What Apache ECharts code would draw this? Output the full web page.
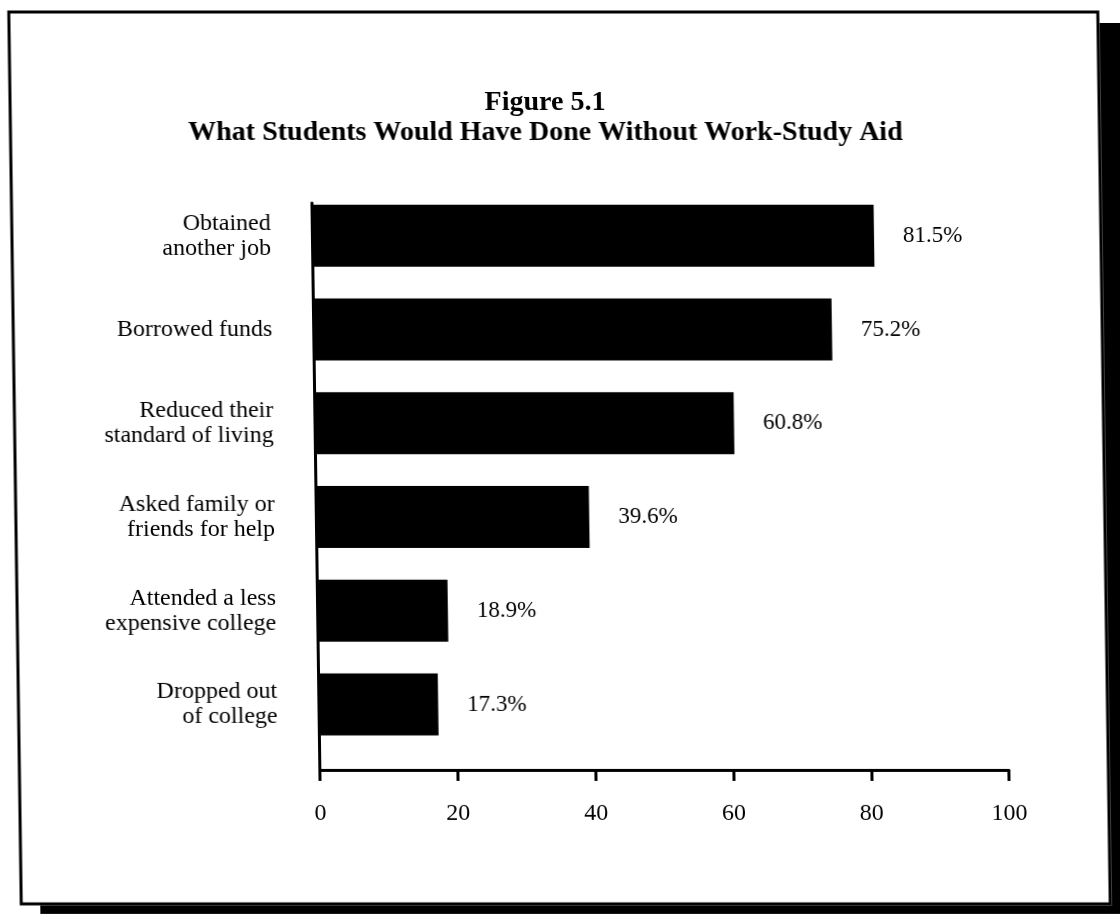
<!DOCTYPE html>
<html>
<head>
<meta charset="utf-8">
<title>Figure 5.1</title>
<script src="https://cdn.jsdelivr.net/npm/echarts@6/dist/echarts.min.js"></script>
<style>
  html, body { margin: 0; padding: 0; background: #ffffff; overflow: hidden; }
  #chart {
    width: 1140px; height: 914px;
    /* slight slant of the printed page */
    transform: skewX(0.8deg);
    transform-origin: 0 457px;
  }
</style>
</head>
<body>
<div id="chart"></div>
<script>
// Responses, top to bottom
const categories = [
  'Obtained\nanother job',
  'Borrowed funds',
  'Reduced their\nstandard of living',
  'Asked family or\nfriends for help',
  'Attended a less\nexpensive college',
  'Dropped out\nof college'
];
// Percent of students giving each response
const percentages = [81.5, 75.2, 60.8, 39.6, 18.9, 17.3];
// Two-line heading
const titleLines = ['Figure 5.1', 'What Students Would Have Done Without Work-Study Aid'];
// Scale of the percentage axis
const axisMin = 0;
const axisMax = 100;
const axisStep = 20;

const serif = "'Liberation Serif', 'Times New Roman', Times, serif";
const W = 1140, H = 914;
const plotLeft = 315.5, plotRight = W - 1004.6;

const chart = echarts.init(document.getElementById('chart'), null, { renderer: 'canvas', width: W, height: H });

chart.setOption({
  backgroundColor: '#ffffff',
  animation: false,
  title: titleLines.map((t, i) => ({
    text: t,
    left: 545,
    top: 83 + i * 30,
    textAlign: 'center',
    textStyle: { fontFamily: serif, fontWeight: 'bold', fontSize: 28, lineHeight: 30, color: '#000' }
  })),
  graphic: [
    // drop shadow of the frame
    { type: 'rect', z: -10, silent: true, shape: { x: 1105.5, y: 23, width: 60, height: 920 }, style: { fill: '#000' } },
    { type: 'rect', z: -10, silent: true, shape: { x: 34, y: 905.5, width: 1130, height: 30 }, style: { fill: '#000' } },
    // frame
    { type: 'rect', z: -10, silent: true, shape: { x: 15, y: 12, width: 1089, height: 892 },
      style: { fill: 'none', stroke: '#000', lineWidth: 3 } }
  ],
  grid: [
    // bars and category labels
    { left: plotLeft, right: plotRight, top: 189, bottom: H - 751.4, containLabel: false },
    // visible axis frame
    { left: plotLeft, right: plotRight, top: 203, bottom: H - 770, containLabel: false }
  ],
  xAxis: [
    { gridIndex: 0, type: 'value', min: axisMin, max: axisMax, interval: axisStep, show: false },
    {
      gridIndex: 1, type: 'value', min: axisMin, max: axisMax, interval: axisStep,
      axisLine: { show: true, onZero: false, lineStyle: { color: '#000', width: 3 } },
      axisTick: { show: true, length: 11, lineStyle: { color: '#000', width: 3 } },
      splitLine: { show: false },
      axisLabel: { margin: 32, fontFamily: serif, fontSize: 24, color: '#000' }
    }
  ],
  yAxis: [
    {
      gridIndex: 0, type: 'category', data: categories, inverse: true,
      axisLine: { show: false }, axisTick: { show: false }, splitLine: { show: false },
      axisLabel: { margin: 41.5, align: 'right', fontFamily: serif, fontSize: 24, lineHeight: 25, color: '#000' }
    },
    {
      gridIndex: 1, type: 'value', min: 0, max: 1,
      axisLine: { show: true, onZero: false, lineStyle: { color: '#000', width: 3 } },
      axisTick: { show: false }, axisLabel: { show: false }, splitLine: { show: false }
    }
  ],
  series: [
    {
      type: 'bar',
      xAxisIndex: 0, yAxisIndex: 0,
      data: percentages,
      barWidth: 62,
      z: 3,
      itemStyle: { color: '#000' },
      label: {
        show: true, position: 'right', distance: 29,
        fontFamily: serif, fontSize: 23, color: '#000',
        formatter: p => p.value.toFixed(1) + '%'
      }
    }
  ]
});
</script>
</body>
</html>
